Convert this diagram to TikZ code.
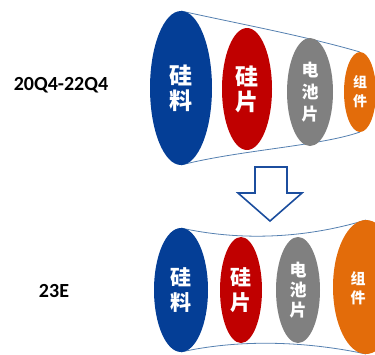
\documentclass[tikz,border=0pt]{standalone}
\usepackage{fontspec}
\setmainfont{Carlito}
\newfontfamily\cjk{Noto Sans CJK SC}
\usetikzlibrary{shapes.geometric}
\definecolor{cblue}{RGB}{4,62,150}
\definecolor{cred}{RGB}{192,0,0}
\definecolor{cgray}{RGB}{128,128,128}
\definecolor{corange}{RGB}{227,108,10}
\definecolor{cline}{RGB}{85,128,176}
\definecolor{carrow}{RGB}{28,78,158}
\tikzset{
  disc/.style={ellipse, inner sep=0pt, text=white, align=center, font=\cjk\bfseries},
  cone/.style={draw=cline, line width=0.8pt},
  rowlabel/.style={font=\bfseries\fontsize{20}{22}\selectfont, text=black},
  hollowarrow/.style={draw=carrow, line width=1.6pt, fill=white, line join=miter}
}
\begin{document}
\begin{tikzpicture}[x=1pt,y=-1pt]
\useasboundingbox (0,0) rectangle (375,354);
\clip (0,0) rectangle (375,354);
% top row node positions
\coordinate (tb) at (181,88);
\coordinate (tr) at (247,89);
\coordinate (tg) at (310,92);
\coordinate (to) at (360,92);
% bottom row
\coordinate (bb) at (181,290);
\coordinate (br) at (241,290);
\coordinate (bg) at (298,290);
\coordinate (bo) at (366,287);
% cone outlines (drawn first, ellipses cover them)
\coordinate (tbN) at (181,11);
\coordinate (tbS) at (181,165);
\coordinate (toN) at (360,52);
\coordinate (toS) at (360,132);
\draw[cone] (tbN) .. controls (240,24) and (305,36) .. (toN);
\draw[cone] (tbS) .. controls (240,150) and (320,146) .. (toS);
\coordinate (bbN) at (181,228);
\coordinate (bbS) at (181,352);
\coordinate (boN) at (366,220);
\coordinate (boS) at (366,354);
\draw[cone] (bbN) .. controls (235,240) and (300,240) .. (boN);
\draw[cone] (bbS) .. controls (235,340) and (300,340) .. (boS);
% top ellipses
\node[disc, fill=cblue, minimum width=62, minimum height=154,
  font=\cjk\bfseries\fontsize{23}{25}\selectfont] (n1) at (tb) {硅\\料};
\node[disc, fill=cred, minimum width=50, minimum height=122,
  font=\cjk\bfseries\fontsize{23}{25}\selectfont] (n2) at (tr) {硅\\片};
\node[disc, fill=cgray, minimum width=46, minimum height=108,
  font=\cjk\bfseries\fontsize{17}{22}\selectfont] (n3) at (tg) {电\\池\\片};
\node[disc, fill=corange, minimum width=32, minimum height=80,
  font=\cjk\bfseries\fontsize{14}{19}\selectfont] (n4) at (to) {组\\件};
% bottom ellipses
\node[disc, fill=cblue, minimum width=54, minimum height=124,
  font=\cjk\bfseries\fontsize{21}{25}\selectfont] (m1) at (bb) {硅\\料};
\node[disc, fill=cred, minimum width=42, minimum height=106,
  font=\cjk\bfseries\fontsize{21}{25}\selectfont] (m2) at (br) {硅\\片};
\node[disc, fill=cgray, minimum width=44, minimum height=106,
  font=\cjk\bfseries\fontsize{17}{20}\selectfont] (m3) at (bg) {电\\池\\片};
\node[disc, fill=corange, minimum width=66, minimum height=134] (m4) at (bo) {};
\node[text=white, align=center, font=\cjk\bfseries\fontsize{15}{19}\selectfont] (m4t) at (358,288) {组\\件};
% arrow
\draw[hollowarrow] (255,167) -- (287,167) -- (287,193) -- (302,193) -- (270,221) -- (238,193) -- (255,193) -- cycle;
% labels
\node[rowlabel] (l1) at (61,85) {20Q4-22Q4};
\node[rowlabel] (l2) at (54,291) {23E};
\end{tikzpicture}
\end{document}
